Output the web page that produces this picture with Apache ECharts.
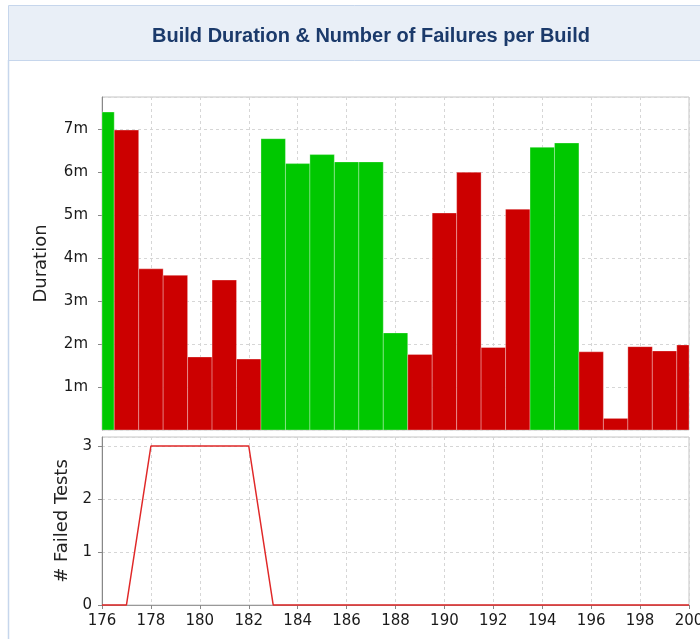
<!DOCTYPE html>
<html>
<head>
<meta charset="utf-8">
<script src="https://cdn.jsdelivr.net/npm/echarts@6/dist/echarts.min.js"></script>
<style>
  html, body { margin: 0; padding: 0; background: #fff; }
  #chart { width: 700px; height: 639px; }
</style>
</head>
<body>
<div id="chart"></div>
<script>
  // build numbers on the x axis
  const builds = [176, 177, 178, 179, 180, 181, 182, 183, 184, 185, 186, 187, 188,
                  189, 190, 191, 192, 193, 194, 195, 196, 197, 198, 199, 200];
  // duration of each build, in minutes
  const durationMin = [7.40, 6.98, 3.75, 3.60, 1.70, 3.49, 1.65, 6.78, 6.20, 6.41, 6.24, 6.24, 2.26,
                       1.76, 5.05, 6.00, 1.92, 5.14, 6.58, 6.68, 1.82, 0.27, 1.94, 1.84, 1.98];
  // 1 = success (green), 0 = failed (red)
  const buildOk = [1, 0, 0, 0, 0, 0, 0, 1, 1, 1, 1, 1, 1,
                   0, 0, 0, 0, 0, 1, 1, 0, 0, 0, 0, 0];
  // failed tests per build
  const failedTests = [0, 0, 3, 3, 3, 3, 3, 0, 0, 0, 0, 0, 0,
                       0, 0, 0, 0, 0, 0, 0, 0, 0, 0, 0, 0];

  const titleText = 'Build Duration & Number of Failures per Build';

  let myChart = echarts.init(document.getElementById('chart'));

  const tickFont = { fontFamily: 'DejaVu Sans', fontSize: 15, color: '#1a1a1a' };
  const splitDash = { show: true, lineStyle: { color: '#d6d6d6', type: [3, 3], width: 1 } };

  myChart.setOption({
    animation: false,
    backgroundColor: '#fff',
    title: {
      text: titleText,
      left: 366,
      top: 21,
      textAlign: 'center',
      textStyle: { fontFamily: 'Liberation Sans', fontWeight: 'bold', fontSize: 20, color: '#1b3a6b' }
    },
    graphic: [
      {
        type: 'rect', silent: true, z: -1,
        shape: { x: 8.5, y: 5.5, width: 720, height: 55 },
        style: { fill: '#e9eff7', stroke: '#c6d6ec', lineWidth: 1 }
      },
      {
        type: 'line', silent: true, z: -1,
        shape: { x1: 8.5, y1: 60, x2: 8.5, y2: 639 },
        style: { stroke: '#c6d6ec', lineWidth: 1.5 }
      }
    ],
    grid: [
      { left: 102, top: 97, right: 11, height: 333, outerBoundsMode: 'none',
        show: true, borderColor: '#c4c4c4', backgroundColor: '#fff' },
      { left: 102, top: 437, right: 11, height: 168, outerBoundsMode: 'none',
        show: true, borderColor: '#c4c4c4', backgroundColor: '#fff' }
    ],
    xAxis: [
      {
        gridIndex: 0, type: 'value', min: 176, max: 200, interval: 2,
        axisLabel: { show: false },
        axisTick: { show: false },
        axisLine: { show: false },
        splitLine: splitDash
      },
      {
        gridIndex: 1, type: 'value', min: 176, max: 200, interval: 2,
        axisLabel: Object.assign({ margin: 9 }, tickFont),
        axisTick: { show: true, length: 4, lineStyle: { color: '#888' } },
        axisLine: { show: true, onZero: false, lineStyle: { color: '#999' } },
        splitLine: splitDash
      }
    ],
    yAxis: [
      {
        gridIndex: 0, type: 'value', min: 0, max: 7.75, interval: 1,
        name: 'Duration', nameLocation: 'middle', nameGap: 52,
        nameTextStyle: { fontFamily: 'DejaVu Sans', fontSize: 18, color: '#222' },
        axisLabel: Object.assign({ margin: 14, showMinLabel: false, showMaxLabel: false,
          formatter: v => v + 'm' }, tickFont),
        axisTick: { show: true, length: 4, lineStyle: { color: '#888' } },
        axisLine: { show: true, lineStyle: { color: '#888' } },
        splitLine: splitDash
      },
      {
        gridIndex: 1, type: 'value', min: 0, max: 3.17, interval: 1,
        name: '# Failed Tests', nameLocation: 'middle', nameGap: 30,
        nameTextStyle: { fontFamily: 'DejaVu Sans', fontSize: 18, color: '#222' },
        axisLabel: Object.assign({ margin: 10, showMaxLabel: false }, tickFont),
        axisTick: { show: true, length: 4, lineStyle: { color: '#888' } },
        axisLine: { show: true, lineStyle: { color: '#888' } },
        splitLine: splitDash
      }
    ],
    series: [
      {
        name: 'Duration',
        type: 'custom',
        xAxisIndex: 0, yAxisIndex: 0,
        data: builds.map((b, i) => [b, durationMin[i], buildOk[i]]),
        renderItem: function (params, api) {
          let x = api.value(0);
          let y = api.value(1);
          let p0 = api.coord([x - 0.5, y]);
          let p1 = api.coord([x + 0.5, 0]);
          let rect = echarts.graphic.clipRectByRect(
            { x: p0[0], y: p0[1], width: p1[0] - p0[0], height: p1[1] - p0[1] },
            { x: params.coordSys.x, y: params.coordSys.y, width: params.coordSys.width, height: params.coordSys.height }
          );
          if (!rect) return;
          return {
            type: 'rect',
            shape: rect,
            style: {
              fill: api.value(2) ? '#00c800' : '#cc0000',
              stroke: 'rgba(255,255,255,0.3)',
              lineWidth: 1
            }
          };
        }
      },
      {
        name: '# Failed Tests',
        type: 'line',
        xAxisIndex: 1, yAxisIndex: 1,
        data: builds.map((b, i) => [b, failedTests[i]]),
        showSymbol: false,
        clip: false,
        lineStyle: { color: '#e02828', width: 1.5 },
        z: 5
      }
    ]
  });
</script>
</body>
</html>
